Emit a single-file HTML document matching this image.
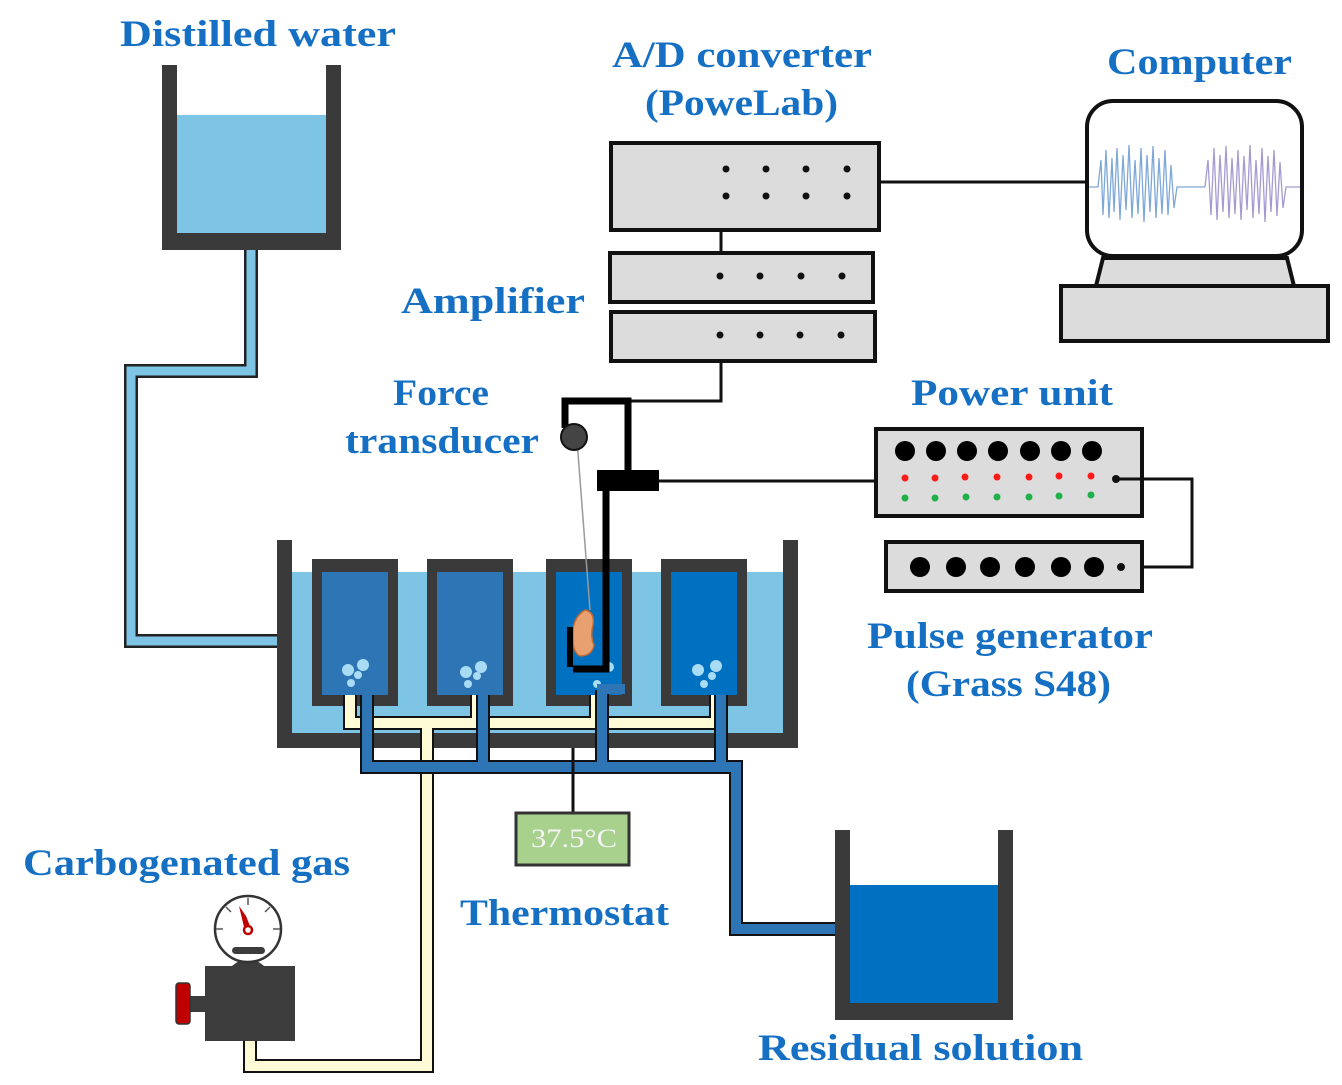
<!DOCTYPE html>
<html><head><meta charset="utf-8"><style>
html,body{margin:0;padding:0;background:#fff;}
svg{display:block;}
text{font-family:"Liberation Serif",serif;font-weight:bold;fill:#1570c4;font-size:37px;}
</style></head><body>
<svg width="1342" height="1085" viewBox="0 0 1342 1085" xmlns="http://www.w3.org/2000/svg">
<rect x="177" y="115" width="149" height="118" fill="#7ec4e4"/>
<rect x="162" y="65" width="15" height="185" fill="#3a3a3a"/>
<rect x="326" y="65" width="15" height="185" fill="#3a3a3a"/>
<rect x="162" y="233" width="179" height="17" fill="#3a3a3a"/>
<path d="M251 250 V371 H131 V641 H292" fill="none" stroke="#222" stroke-width="14"/>
<path d="M251 250 V371 H131 V641 H292" fill="none" stroke="#7ec4e4" stroke-width="9"/>

<rect x="292" y="572" width="491" height="161" fill="#7ec4e4"/>
<rect x="277" y="540" width="15" height="208" fill="#3a3a3a"/>
<rect x="783" y="540" width="15" height="208" fill="#3a3a3a"/>
<rect x="277" y="733" width="521" height="15" fill="#3a3a3a"/>
<g fill="#3a3a3a">
<rect x="312" y="559" width="86" height="147"/>
<rect x="427" y="559" width="86" height="147"/>
<rect x="546" y="559" width="86" height="147"/>
<rect x="661" y="559" width="86" height="147"/>
</g>
<rect x="322" y="572" width="66" height="123" fill="#2e75b6"/>
<rect x="437" y="572" width="66" height="123" fill="#2e75b6"/>
<rect x="556" y="572" width="66" height="123" fill="#0070c0"/>
<rect x="671" y="572" width="66" height="123" fill="#0070c0"/>
<g fill="#a8dcf4">
<circle cx="348" cy="670" r="6"/><circle cx="363" cy="665" r="6"/><circle cx="358" cy="675" r="4"/><circle cx="351" cy="683" r="4"/>
<circle cx="466" cy="672" r="6"/><circle cx="481" cy="667" r="6"/><circle cx="477" cy="676" r="4"/><circle cx="468" cy="684" r="4"/>
<circle cx="597" cy="684" r="4"/><circle cx="609" cy="667" r="5"/>
<circle cx="698" cy="670" r="6"/><circle cx="716" cy="666" r="6"/><circle cx="712" cy="676" r="4"/><circle cx="704" cy="684" r="4"/>
</g>
<g fill="none" stroke="#111" stroke-width="14">
<path d="M350 695 V723 H716 V695"/><path d="M477 695 V723"/><path d="M596 695 V723"/>
<path d="M427 723 V1066 H250 V1040"/>
</g>
<g fill="none" stroke="#fffbd6" stroke-width="10">
<path d="M350 695 V723 H716 V695"/><path d="M477 695 V723"/><path d="M596 695 V723"/>
<path d="M427 723 V1066 H250 V1040"/>
</g>
<g fill="none" stroke="#111" stroke-width="14">
<path d="M367 695 V767 H736 V929 H850"/><path d="M483 695 V767"/><path d="M602 690 V767"/><path d="M721 695 V767"/>
</g>
<g fill="none" stroke="#2e75b6" stroke-width="10">
<path d="M367 695 V767 H736 V929 H850"/><path d="M483 695 V767"/><path d="M602 690 V767"/><path d="M721 695 V767"/>
</g>
<rect x="597" y="684" width="28" height="10" fill="#2e75b6"/>

<line x1="573" y1="748" x2="573" y2="812" stroke="#111" stroke-width="3"/>
<rect x="516" y="813" width="113" height="52" fill="#a9d18e" stroke="#333" stroke-width="3"/>
<text x="531" y="847" style="font-weight:normal;fill:#f4f4f4;font-size:26px" textLength="86" lengthAdjust="spacingAndGlyphs">37.5°C</text>

<rect x="850" y="885" width="148" height="118" fill="#0070c0"/>
<rect x="835" y="830" width="15" height="190" fill="#3a3a3a"/>
<rect x="998" y="830" width="15" height="190" fill="#3a3a3a"/>
<rect x="835" y="1003" width="178" height="17" fill="#3a3a3a"/>

<rect x="190" y="996" width="16" height="16" fill="#3c3c3c"/>
<rect x="176" y="983" width="14" height="41" rx="3" fill="#c00000" stroke="#333" stroke-width="1.5"/>
<path d="M232 966 Q248 952 264 966 Z" fill="#3c3c3c"/>
<rect x="205" y="966" width="90" height="75" fill="#3c3c3c"/>
<circle cx="248" cy="929" r="33" fill="#fff" stroke="#333" stroke-width="2.5"/>
<g stroke="#555" stroke-width="1.5">
<line x1="248" y1="898" x2="248" y2="905"/><line x1="226" y1="907" x2="231" y2="912"/><line x1="270" y1="907" x2="265" y2="912"/>
<line x1="216" y1="929" x2="223" y2="929"/><line x1="280" y1="929" x2="273" y2="929"/>
</g>
<rect x="232" y="947" width="33" height="7" rx="3.5" fill="#3c3c3c"/>
<path d="M239 906 L246 916 L250 926 L244 927 Z" fill="#c00000"/>
<circle cx="248" cy="930" r="4" fill="none" stroke="#c00000" stroke-width="2.5"/>

<rect x="611" y="143" width="268" height="87" fill="#dcdcdc" stroke="#111" stroke-width="4"/>
<g fill="#111">
<circle cx="726" cy="169" r="3.5"/><circle cx="766" cy="169" r="3.5"/><circle cx="806" cy="169" r="3.5"/><circle cx="847" cy="169" r="3.5"/>
<circle cx="726" cy="196" r="3.5"/><circle cx="766" cy="196" r="3.5"/><circle cx="806" cy="196" r="3.5"/><circle cx="847" cy="196" r="3.5"/>
</g>
<line x1="721" y1="230" x2="721" y2="253" stroke="#111" stroke-width="3"/>
<rect x="610" y="253" width="263" height="49" fill="#dcdcdc" stroke="#111" stroke-width="4"/>
<rect x="611" y="312" width="264" height="49" fill="#dcdcdc" stroke="#111" stroke-width="4"/>
<g fill="#111">
<circle cx="720" cy="276" r="3.5"/><circle cx="760" cy="276" r="3.5"/><circle cx="801" cy="276" r="3.5"/><circle cx="842" cy="276" r="3.5"/>
<circle cx="720" cy="335" r="3.5"/><circle cx="760" cy="335" r="3.5"/><circle cx="800" cy="335" r="3.5"/><circle cx="841" cy="335" r="3.5"/>
</g>
<path d="M721 362 V401 H630" fill="none" stroke="#111" stroke-width="3"/>
<line x1="880" y1="182" x2="1087" y2="182" stroke="#111" stroke-width="3"/>

<path d="M565 428 V401 H628 V472" fill="none" stroke="#000" stroke-width="7"/>
<line x1="577" y1="440" x2="590" y2="610" stroke="#999" stroke-width="1.5"/>
<circle cx="574" cy="437" r="13" fill="#444" stroke="#111" stroke-width="2"/>
<rect x="597" y="470" width="62" height="21" fill="#000"/>
<line x1="659" y1="481" x2="876" y2="481" stroke="#111" stroke-width="3"/>
<path d="M585 610 Q595 612 593 625 Q590 636 594 645 Q592 656 580 656 Q572 652 573 635 Q572 618 585 610 Z" fill="#e8a070" stroke="#c86a30" stroke-width="1.5"/>
<path d="M606 491 V669 H573" fill="none" stroke="#000" stroke-width="7"/>
<rect x="567" y="627" width="6" height="40" fill="#000"/>

<rect x="876" y="429" width="266" height="87" fill="#dcdcdc" stroke="#111" stroke-width="4"/>
<g fill="#000">
<circle cx="905" cy="451" r="10"/><circle cx="936" cy="451" r="10"/><circle cx="967" cy="451" r="10"/><circle cx="998" cy="451" r="10"/><circle cx="1030" cy="451" r="10"/><circle cx="1061" cy="451" r="10"/><circle cx="1092" cy="451" r="10"/>
</g>
<g fill="#ff1a1a">
<circle cx="905" cy="478" r="3.5"/><circle cx="935" cy="478" r="3.5"/><circle cx="965" cy="477" r="3.5"/><circle cx="997" cy="477" r="3.5"/><circle cx="1029" cy="477" r="3.5"/><circle cx="1059" cy="476" r="3.5"/><circle cx="1091" cy="476" r="3.5"/>
</g>
<g fill="#1fb04a">
<circle cx="905" cy="498" r="3.5"/><circle cx="935" cy="498" r="3.5"/><circle cx="966" cy="497" r="3.5"/><circle cx="997" cy="497" r="3.5"/><circle cx="1029" cy="497" r="3.5"/><circle cx="1059" cy="496" r="3.5"/><circle cx="1091" cy="495" r="3.5"/>
</g>
<circle cx="1116" cy="479" r="4" fill="#111"/>
<path d="M1116 479 H1192 V567 H1121" fill="none" stroke="#111" stroke-width="3"/>
<rect x="886" y="542" width="256" height="49" fill="#dcdcdc" stroke="#111" stroke-width="4"/>
<g fill="#000">
<circle cx="920" cy="567" r="10"/><circle cx="956" cy="567" r="10"/><circle cx="990" cy="567" r="10"/><circle cx="1025" cy="567" r="10"/><circle cx="1061" cy="567" r="10"/><circle cx="1094" cy="567" r="10"/>
</g>
<circle cx="1121" cy="567" r="4" fill="#111"/>

<path d="M1103 258 L1287 258 L1294 286 L1096 286 Z" fill="#dcdcdc" stroke="#111" stroke-width="4"/>
<rect x="1061" y="286" width="267" height="55" fill="#dcdcdc" stroke="#111" stroke-width="4"/>
<rect x="1087" y="101" width="215" height="155" rx="26" fill="#fff" stroke="#111" stroke-width="4"/>
<polyline fill="none" stroke="#7ea8d8" stroke-width="1.3" points="1089,187 1098,187 1101,160 1103,215 1106,150 1109,218 1112,158 1114,212 1117,148 1120,220 1123,155 1126,210 1129,145 1132,218 1135,160 1138,214 1141,148 1144,222 1147,155 1150,212 1153,146 1156,218 1159,158 1162,214 1165,150 1168,215 1171,165 1174,208 1177,187 1205,187"/>
<polyline fill="none" stroke="#a79ad0" stroke-width="1.3" points="1205,187 1208,160 1211,215 1214,148 1217,220 1220,155 1223,212 1226,146 1229,218 1232,158 1235,214 1238,150 1241,220 1244,156 1247,210 1250,145 1253,218 1256,160 1259,214 1262,148 1265,222 1268,156 1271,212 1274,150 1277,216 1280,162 1283,208 1286,187 1300,187"/>

<text x="120" y="46" textLength="276" lengthAdjust="spacingAndGlyphs">Distilled water</text>
<text x="612" y="67" textLength="260" lengthAdjust="spacingAndGlyphs">A/D converter</text>
<text x="645" y="115" textLength="193" lengthAdjust="spacingAndGlyphs">(PoweLab)</text>
<text x="1107" y="74" textLength="185" lengthAdjust="spacingAndGlyphs">Computer</text>
<text x="401" y="313" textLength="184" lengthAdjust="spacingAndGlyphs">Amplifier</text>
<text x="393" y="405" textLength="96" lengthAdjust="spacingAndGlyphs">Force</text>
<text x="345" y="453" textLength="194" lengthAdjust="spacingAndGlyphs">transducer</text>
<text x="911" y="405" textLength="202" lengthAdjust="spacingAndGlyphs">Power unit</text>
<text x="867" y="648" textLength="286" lengthAdjust="spacingAndGlyphs">Pulse generator</text>
<text x="906" y="696" textLength="205" lengthAdjust="spacingAndGlyphs">(Grass S48)</text>
<text x="23" y="875" textLength="327" lengthAdjust="spacingAndGlyphs">Carbogenated gas</text>
<text x="460" y="925" textLength="209" lengthAdjust="spacingAndGlyphs">Thermostat</text>
<text x="758" y="1060" textLength="325" lengthAdjust="spacingAndGlyphs">Residual solution</text>
</svg>
</body></html>
